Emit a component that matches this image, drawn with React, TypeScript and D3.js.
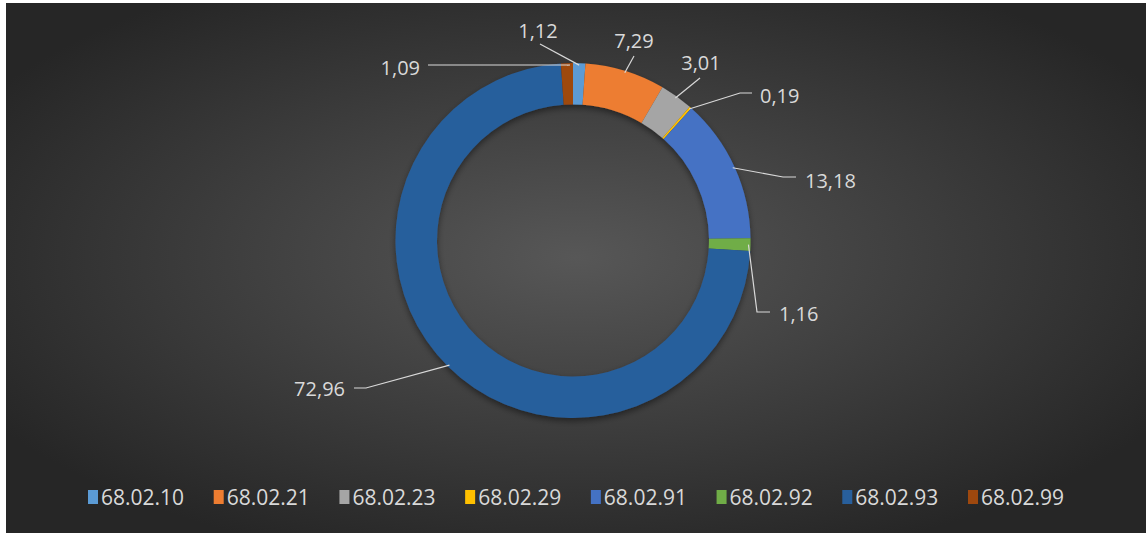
import React from "react";
import * as d3 from "d3";

const categories = ["68.02.10", "68.02.21", "68.02.23", "68.02.29", "68.02.91", "68.02.92", "68.02.93", "68.02.99"];
const values = [1.12, 7.29, 3.01, 0.19, 13.18, 1.16, 72.96, 1.09];
const valueLabels = ["1,12", "7,29", "3,01", "0,19", "13,18", "1,16", "72,96", "1,09"];
const colors = ["#5B9BD5", "#ED7D31", "#A5A5A5", "#FFC000", "#4472C4", "#70AD47", "#285F9C", "#9E480E"];

// label anchor placements (text position and leader-line elbow) for each slice
const labelPos: { tx: number; ty: number; anchor: string; elbow: [number, number]; end: [number, number] }[] = [
  { tx: 538, ty: 30, anchor: "middle", elbow: [540, 44], end: [540, 44] },
  { tx: 634, ty: 40, anchor: "middle", elbow: [634, 56], end: [634, 56] },
  { tx: 701, ty: 62, anchor: "middle", elbow: [700, 78], end: [700, 78] },
  { tx: 760, ty: 95, anchor: "start", elbow: [740, 93], end: [752, 93] },
  { tx: 805, ty: 180, anchor: "start", elbow: [783, 177], end: [796, 177] },
  { tx: 779, ty: 313, anchor: "start", elbow: [757, 312], end: [770, 312] },
  { tx: 345, ty: 388, anchor: "end", elbow: [366, 388], end: [354, 388] },
  { tx: 420, ty: 67, anchor: "end", elbow: [570, 65], end: [428, 65] },
];

export default function App() {
  const W = 1146, H = 533;
  const cx = 573, cy = 240.5;
  const rOuter = 177.5, rInner = 136;
  const pie = d3.pie<number>().sort(null).value((d) => d);
  const arcs = pie(values);
  const arc = d3.arc<d3.PieArcDatum<number>>().innerRadius(rInner).outerRadius(rOuter);
  const font = "'Open Sans', sans-serif";

  const legendX = d3.scalePoint<string>().domain(categories).range([88, 968]);

  return (
    <svg width={W} height={H} style={{ position: "absolute", left: 0, top: 0, display: "block" }}>
      <defs>
        <radialGradient id="bg" cx="50%" cy="48%" r="60%">
          <stop offset="0%" stopColor="#575757" />
          <stop offset="100%" stopColor="#262626" />
        </radialGradient>
        <filter id="sh" x="-20%" y="-20%" width="140%" height="140%">
          <feDropShadow dx="0" dy="3" stdDeviation="3" floodColor="#000" floodOpacity="0.45" />
        </filter>
      </defs>
      <rect x={0} y={0} width={W} height={H} fill="#ffffff" />
      <rect x={6} y={3} width={W - 6} height={H - 3} fill="url(#bg)" />
      <g transform={`translate(${cx},${cy})`} filter="url(#sh)">
        {arcs.map((a, i) => (
          <path key={i} d={arc(a) || ""} fill={colors[i]} />
        ))}
      </g>
      {arcs.map((a, i) => {
        const mid = (a.startAngle + a.endAngle) / 2;
        const px = cx + Math.sin(mid) * (rOuter - 2);
        const py = cy - Math.cos(mid) * (rOuter - 2);
        const lp = labelPos[i];
        const pts = [[px, py], lp.elbow, lp.end];
        return (
          <g key={"l" + i}>
            <polyline points={pts.map((p) => p.join(",")).join(" ")} fill="none" stroke="#d9d9d9" strokeWidth={1.2} />
            <text x={lp.tx} y={lp.ty} textAnchor={lp.anchor as any} dominantBaseline="central" fill="#d9d9d9" fontSize={20} fontFamily={font}>
              {valueLabels[i]}
            </text>
          </g>
        );
      })}
      {categories.map((c, i) => {
        const x = legendX(c)!;
        return (
          <g key={"lg" + i}>
            <rect x={x} y={490} width={10} height={14} fill={colors[i]} />
            <text x={x + 13} y={497} dominantBaseline="central" fill="#d9d9d9" fontSize={21} fontFamily={font}>
              {c}
            </text>
          </g>
        );
      })}
    </svg>
  );
}
